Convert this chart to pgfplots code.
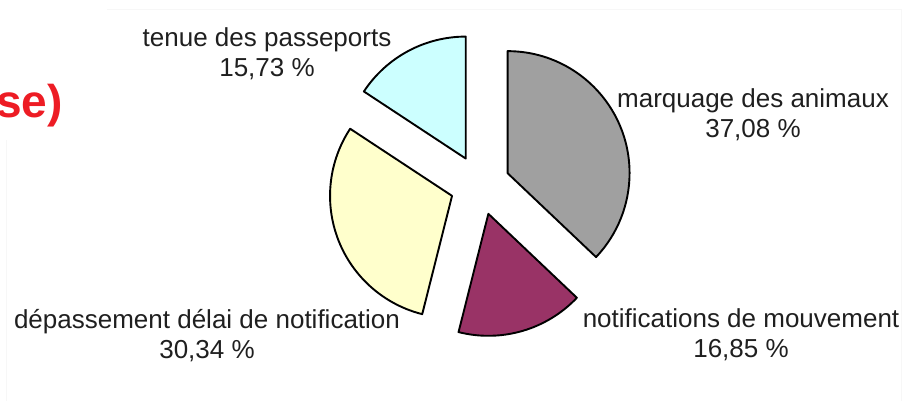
\documentclass[border=0pt]{standalone}
\usepackage{fontspec}
\setmainfont{Liberation Sans}
\usepackage{pgfplots}
\pgfplotsset{compat=1.18}
\usepackage{pgfplotstable}

\definecolor{sgray}{HTML}{A0A0A0}
\definecolor{smag}{HTML}{993366}
\definecolor{syel}{HTML}{FFFFCC}
\definecolor{scyan}{HTML}{CCFFFF}
\definecolor{tred}{HTML}{ED1C24}

% shares in percent, clockwise from 12 o'clock
\pgfplotstableread[col sep=comma]{
label,value
marquage,37.08
notifications,16.85
depassement,30.34
tenue,15.73
}\piedata

\pgfplotstablegetelem{0}{value}\of\piedata \let\vA\pgfplotsretval
\pgfplotstablegetelem{1}{value}\of\piedata \let\vB\pgfplotsretval
\pgfplotstablegetelem{2}{value}\of\piedata \let\vC\pgfplotsretval
\pgfplotstablegetelem{3}{value}\of\piedata \let\vD\pgfplotsretval

% slice angles
\pgfmathsetmacro\aA{90}
\pgfmathsetmacro\aB{\aA-3.6*\vA}
\pgfmathsetmacro\aC{\aB-3.6*\vB}
\pgfmathsetmacro\aD{\aC-3.6*\vC}
\pgfmathsetmacro\aE{\aD-3.6*\vD}
\pgfmathsetmacro\mA{(\aA+\aB)/2}
\pgfmathsetmacro\mB{(\aB+\aC)/2}
\pgfmathsetmacro\mC{(\aC+\aD)/2}
\pgfmathsetmacro\mD{(\aD+\aE)/2}

\def\cx{480}\def\cy{216}\def\ex{30}\def\rad{122pt}

\begin{document}
\begin{tikzpicture}
\begin{axis}[
    name=ax,
    width=903pt, height=401pt,
    scale only axis,
    xmin=0, xmax=903, ymin=0, ymax=401,
    axis lines=none,
    ticks=none,
    clip=false,
]
% faint frame
\draw[gray!6, line width=0.8pt] (axis cs:107,392) -- (axis cs:901,392) -- (axis cs:901,0);
\draw[gray!6, line width=0.8pt] (axis cs:6,261) -- (axis cs:6,0);

\tikzset{slice/.style={draw=black, line width=1.9pt, line join=round}}
\filldraw[slice, fill=sgray]
  (axis cs:{\cx+\ex*cos(\mA)},{\cy+\ex*sin(\mA)}) -- ++(\aA:\rad)
  arc[start angle=\aA, end angle=\aB, radius=\rad] -- cycle;
\filldraw[slice, fill=smag]
  (axis cs:{\cx+\ex*cos(\mB)},{\cy+\ex*sin(\mB)}) -- ++(\aB:\rad)
  arc[start angle=\aB, end angle=\aC, radius=\rad] -- cycle;
\filldraw[slice, fill=syel]
  (axis cs:{\cx+\ex*cos(\mC)},{\cy+\ex*sin(\mC)}) -- ++(\aC:\rad)
  arc[start angle=\aC, end angle=\aD, radius=\rad] -- cycle;
\filldraw[slice, fill=scyan]
  (axis cs:{\cx+\ex*cos(\mD)},{\cy+\ex*sin(\mD)}) -- ++(\aD:\rad)
  arc[start angle=\aD, end angle=\aE, radius=\rad] -- cycle;

\tikzset{lab/.style={align=center, inner sep=0pt, text=black!88,
  font=\fontsize{26}{30}\selectfont}}
\node[lab] at (axis cs:267,347.5) {tenue des passeports\\15,73 \%};
\node[lab] at (axis cs:753,286.5) {marquage des animaux\\37,08 \%};
\node[lab] at (axis cs:207,65.5) {dépassement délai de notification\\30,34 \%};
\node[lab] at (axis cs:741,66.5) {notifications de mouvement\\16,85 \%};

\node[anchor=base east, inner sep=0pt, text=tred,
  font=\fontsize{46}{50}\selectfont\bfseries] at (axis cs:63,283) {se)};
\end{axis}
\pgfresetboundingbox
\path[use as bounding box] (ax.south west) rectangle (ax.north east);
\end{tikzpicture}
\end{document}
